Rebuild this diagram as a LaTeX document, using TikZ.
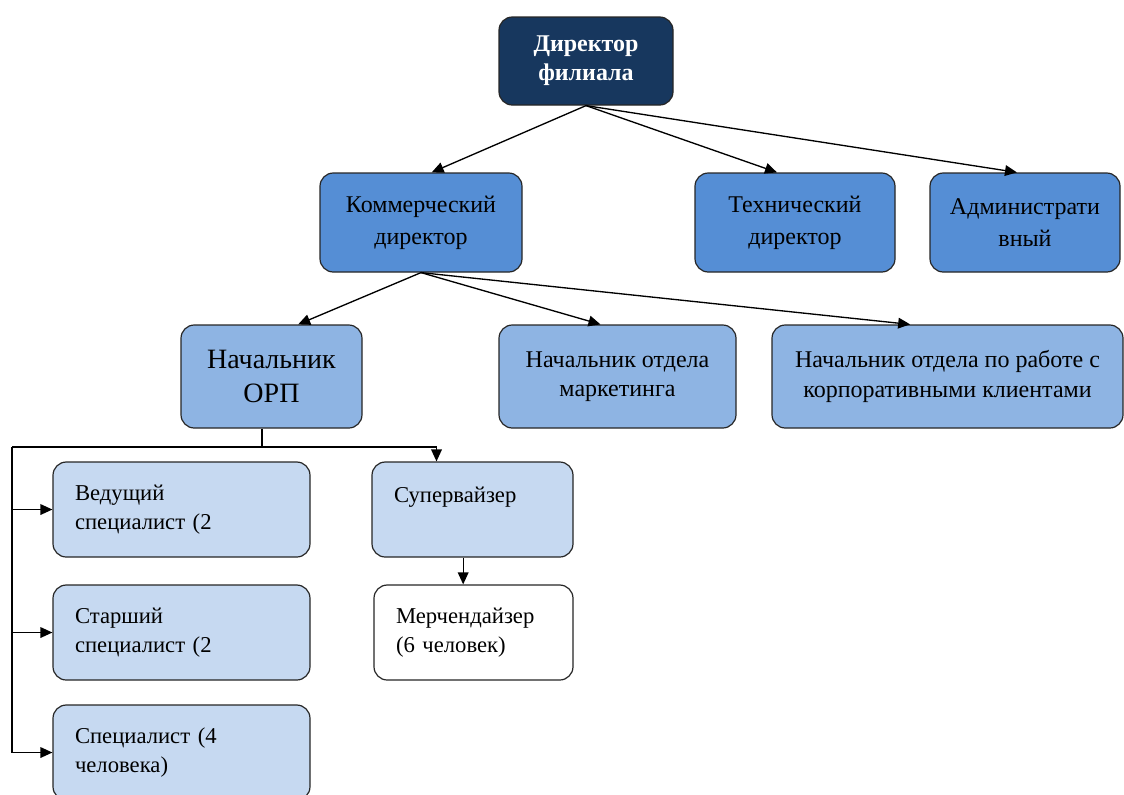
\documentclass[tikz,border=0pt]{standalone}
\usepackage{fontspec}
\setmainfont{Liberation Serif}
\usetikzlibrary{arrows.meta}
\definecolor{navy}{HTML}{17375E}
\definecolor{deptblue}{HTML}{558ED5}
\definecolor{headblue}{HTML}{8EB4E3}
\definecolor{staffblue}{HTML}{C6D9F1}
\begin{document}
\begin{tikzpicture}[
        x=0.75pt, y=-0.75pt,
        box/.style={draw=black!85, rounded corners=10pt, line width=0.9pt, align=center, inner sep=2pt},
        chief/.style={box, fill=navy, text=white, font=\fontsize{18}{22}\selectfont\bfseries, minimum width=130.5pt, minimum height=66pt},
        dept/.style={box, fill=deptblue, font=\fontsize{18}{24}\selectfont, minimum height=74.25pt},
        head/.style={box, fill=headblue, font=\fontsize{18}{22}\selectfont, minimum height=77.25pt},
        staff/.style={box, fill=staffblue, align=left, inner xsep=16.5pt, font=\fontsize{17}{22}\selectfont, minimum height=71.25pt},
        link/.style={-{Triangle[length=9pt, width=8pt]}, line width=1pt}
    ]
        \useasboundingbox (0,0) rectangle (1124,794);
        \node[chief] (dir) at (586, 61) {Директор\\ филиала};
        \node[dept, minimum width=151.5pt] (com)  at (421, 222.5) {Коммерческий\\ директор};
        \node[dept, minimum width=150pt]   (tech) at (795, 222.5) {Технический\\ директор};
        \node[dept, minimum width=142.5pt] (adm)  at (1025, 222.5) {Администрати\\ вный};
        \node[head, minimum width=135.75pt, font=\fontsize{21}{26}\selectfont] (orp) at (271.5, 376.5) {Начальник\\ ОРП};
        \node[head, minimum width=177.75pt] (mkt)  at (617.5, 376.5) {Начальник отдела\\ маркетинга};
        \node[head, minimum width=263.25pt] (corp) at (947.5, 376.5) {Начальник отдела по работе с\\ корпоративными клиентами};
        \node[staff, text width=159.75pt] (lead)   at (181.5, 509.5) {Ведущий\\ специалист (2};
        \node[staff, text width=159.75pt] (senior) at (181.5, 632.5) {Старший\\ специалист (2};
        \node[staff, text width=159.75pt] (spec)   at (181.5, 752.5) {Специалист (4\\ человека)};
        \node[staff, text width=117.75pt] (sup)    at (472.5, 509.5) {Супервайзер\\ ~};
        \node[staff, fill=white, text width=116.25pt] (merch) at (473.5, 632.5) {Мерчендайзер\\ (6 человек)};
        \draw[link] (dir.south) -- ([xshift=8pt]com.north);
        \draw[link] (dir.south) -- ([xshift=-13.5pt]tech.north);
        \draw[link] (dir.south) -- ([xshift=-6pt]adm.north);
        \draw[link] (com.south) -- ([xshift=20pt]orp.north);
        \draw[link] (com.south) -- ([xshift=-12.75pt]mkt.north);
        \draw[link] (com.south) -- ([xshift=-28pt]corp.north);
        % bus below ORP
        \coordinate (bus) at (262, 447);
        \coordinate (trunk) at (12, 447);
        \coordinate (suptop) at ([xshift=-27pt]sup.north);
        \draw[line width=1pt] (bus |- orp.south) -- (bus);
        \draw[link] (trunk) -- (trunk -| suptop) -- (suptop);
        \draw[line width=1pt] (trunk) -- (trunk |- spec.west);
        \foreach \n in {lead, senior, spec}
            \draw[link] (trunk |- \n.west) -- (\n.west);
        \draw[link] ([xshift=-7pt]sup.south) -- ([xshift=-7pt]sup.south |- merch.north);
    \end{tikzpicture}
\end{document}
